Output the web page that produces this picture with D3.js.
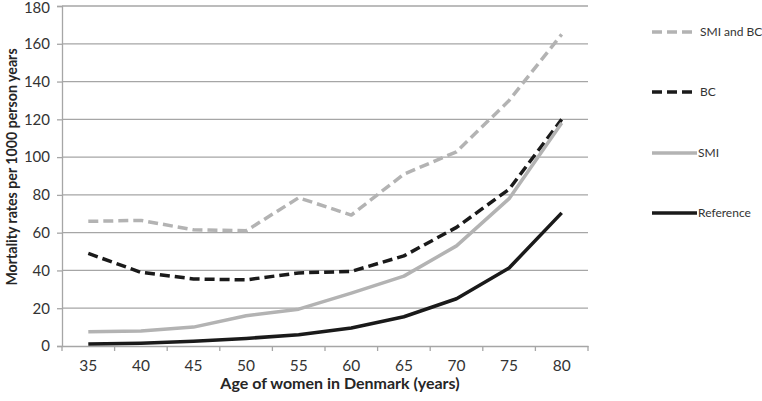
<!DOCTYPE html>
<html><head><meta charset="utf-8">
<script src="https://cdn.jsdelivr.net/npm/d3@7"></script>
<style>body{margin:0;background:#fff;}svg{display:block;font-family:Lato,sans-serif;}</style>
</head><body><svg id="c" width="762" height="401"></svg>
<script>
const ages = ["35","40","45","50","55","60","65","70","75","80"];
const smiAndBC = [66, 66.5, 61.5, 61, 78.5, 69.3, 91, 102.8, 130, 165];
const bc = [49, 39, 35.5, 35, 38.7, 39.5, 47.7, 62.8, 83, 120];
const smi = [7.5, 8, 10, 16, 19.5, 28, 37, 53, 78, 118];
const reference = [1, 1.5, 2.5, 4, 6, 9.5, 15.5, 25, 41.3, 70.5];
const yTicks = [0, 20, 40, 60, 80, 100, 120, 140, 160, 180];
const seriesNames = ["SMI and BC", "BC", "SMI", "Reference"];

const series = [
  {name: seriesNames[0], values: smiAndBC, color: "#b3b3b3", dash: "10,5"},
  {name: seriesNames[1], values: bc, color: "#1a1a1a", dash: "10,5"},
  {name: seriesNames[2], values: smi, color: "#b3b3b3", dash: null},
  {name: seriesNames[3], values: reference, color: "#1a1a1a", dash: null}
];

const svg = d3.select("#c");
const L = 62, R = 588, T = 6, B = 346;
const x = d3.scaleBand().domain(ages).range([L, R]);
const y = d3.scaleLinear().domain([0, 180]).range([B, T]);

svg.append("g").selectAll("line").data(yTicks.filter(d => d > 0)).join("line")
  .attr("x1", L).attr("x2", R).attr("y1", d => y(d)).attr("y2", d => y(d))
  .attr("stroke", "#a6a6a6").attr("stroke-width", 1.3);

const ya = svg.append("g").attr("transform", `translate(${L},0)`)
  .call(d3.axisLeft(y).tickValues(yTicks).tickSize(5).tickPadding(7));
ya.select(".domain").attr("stroke", "#a6a6a6").attr("stroke-width", 1.3);
ya.selectAll(".tick line").attr("stroke", "#a6a6a6").attr("stroke-width", 1.3);
ya.selectAll("text").attr("font-size", 15).attr("fill", "#333").attr("font-family", "Lato")
  .attr("dy", d => d === 180 ? "0.4em" : "0.32em");

const xa = svg.append("g").attr("transform", `translate(0,${B})`)
  .call(d3.axisBottom(x).tickSize(0).tickPadding(14));
xa.select(".domain").attr("stroke", "#a6a6a6").attr("stroke-width", 1.3);
xa.selectAll("text").attr("font-size", 15.5).attr("fill", "#333").attr("font-family", "Lato");
const bounds = ages.map(a => x(a)).concat([R]);
svg.append("g").selectAll("line").data(bounds).join("line")
  .attr("x1", d => d).attr("x2", d => d).attr("y1", B).attr("y2", B + 5)
  .attr("stroke", "#a6a6a6").attr("stroke-width", 1.3);

const line = d3.line().x((d, i) => x(ages[i]) + x.bandwidth() / 2).y(d => y(d));
series.forEach(s => {
  svg.append("path").datum(s.values).attr("d", line)
    .attr("fill", "none").attr("stroke", s.color).attr("stroke-width", 3.5)
    .attr("stroke-linejoin", "round")
    .attr("stroke-dasharray", s.dash);
});

svg.append("text").attr("x", 340).attr("y", 389).attr("text-anchor", "middle")
  .attr("font-size", 16).attr("font-weight", "bold").attr("fill", "#262626")
  .text("Age of women in Denmark (years)");
svg.append("text").attr("transform", `translate(17,167) rotate(-90)`)
  .attr("text-anchor", "middle")
  .attr("font-size", 14.2).attr("font-weight", "bold").attr("fill", "#262626")
  .text("Mortality rates per 1000 person years");

const legY = [32, 92, 153, 213];
series.forEach((s, i) => {
  svg.append("line").attr("x1", 652).attr("x2", 697).attr("y1", legY[i]).attr("y2", legY[i])
    .attr("stroke", s.color).attr("stroke-width", 3.5).attr("stroke-dasharray", s.dash);
  svg.append("text").attr("x", i >= 2 ? 698 : 700).attr("y", legY[i]).attr("dy", "0.35em")
    .attr("font-size", 12).attr("fill", "#333").text(s.name);
});
</script></body></html>
